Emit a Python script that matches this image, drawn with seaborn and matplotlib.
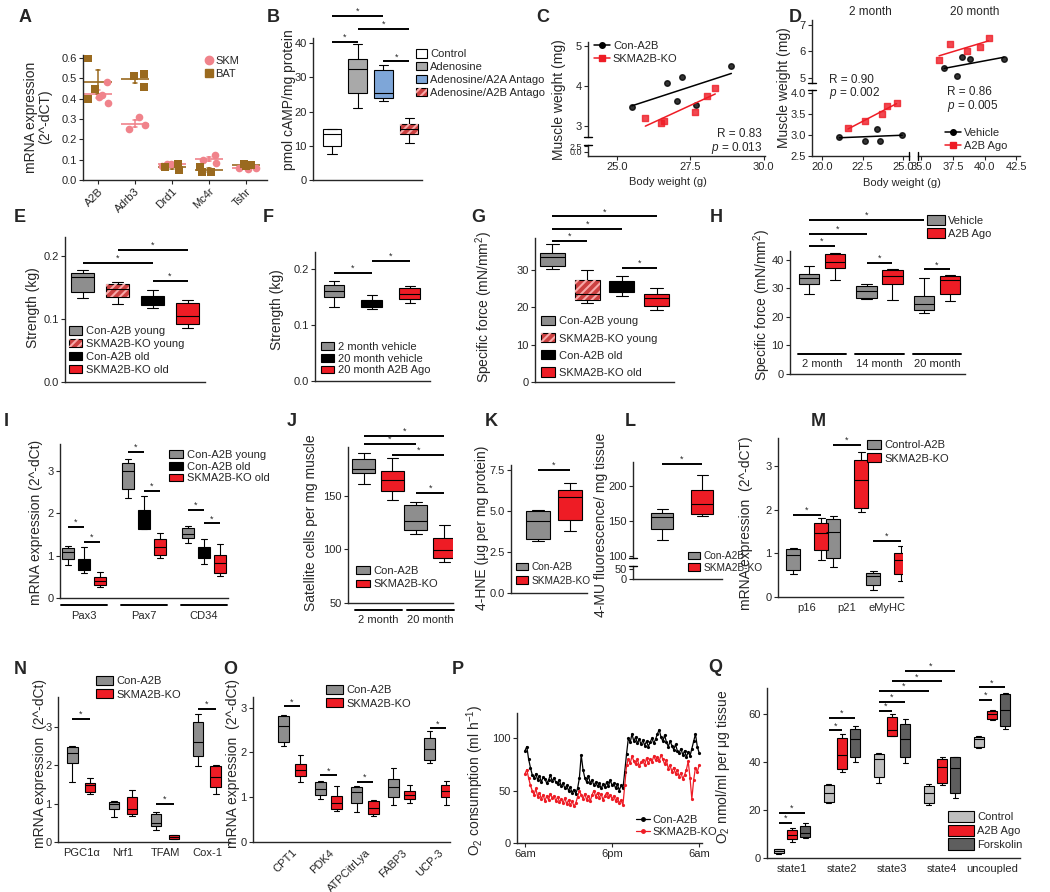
import numpy as np
import pandas as pd
import matplotlib
matplotlib.use('Agg')
import matplotlib.pyplot as plt
import seaborn as sns
from matplotlib.patches import Patch, PathPatch
from matplotlib.lines import Line2D
from matplotlib.colors import to_rgb

sns.set_style('ticks')
plt.rcParams['font.family'] = ['Liberation Sans', 'DejaVu Sans']
plt.rcParams['mathtext.fontset'] = 'custom'
plt.rcParams['mathtext.rm'] = 'Liberation Sans'
plt.rcParams['mathtext.it'] = 'Liberation Sans:italic'
plt.rcParams['hatch.linewidth'] = 1.5
plt.rcParams['axes.linewidth'] = 1.0

# colours
GRAY = '#8E8E8E'
RED = '#EE1C25'
HATCH_BASE = '#CC4040'
HATCH_LINE = '#F7A8A8'
B_GRAY = '#A9A9A9'
B_BLUE = '#7EA6D8'
Q_LIGHT = '#BEBEBE'
Q_DARK = '#5E5E5E'
SKM_C = '#F0838B'
BAT_C = '#9A6A1F'

# ---------------- data ----------------
# A
a_genes = ['A2B', 'Adrb3', 'Drd1', 'Mc4r', 'Tshr']
a_skm = [[0.48, 0.41, 0.38, 0.42], [0.31, 0.25, 0.27], [0.07, 0.08, 0.08],
         [0.125, 0.10, 0.085], [0.06, 0.06, 0.055]]
a_bat = [[0.60, 0.45, 0.40], [0.52, 0.51, 0.46], [0.08, 0.05, 0.065],
         [0.065, 0.04, 0.04], [0.075, 0.08, 0.07]]

# B  (min, q1, median, q3, max)
b_groups = ['Control', 'Adenosine', 'Adenosine/A2A Antago', 'Adenosine/A2B Antago']
b_stats = [[7.5, 10.0, 13.5, 14.8, 14.8], [21.0, 25.5, 32.5, 35.3, 39.7],
           [23.0, 24.0, 25.3, 32.2, 33.5], [10.8, 13.5, 15.0, 16.5, 18.2]]
b_sig = [(0, 1, 40.3), (1, 3, 44.1), (0, 2, 47.9), (2, 3, 34.7)]

# C
c_con_bw = [25.5, 26.7, 27.2, 27.05, 27.7, 28.9]
c_con_mw = [3.48, 4.07, 4.22, 3.63, 3.52, 4.50]
c_ko_bw = [25.96, 26.5, 26.6, 27.65, 28.07, 28.35]
c_ko_mw = [3.20, 3.07, 3.13, 3.34, 3.76, 3.96]

# D
d2_veh_bw = [21.07, 22.65, 23.4, 23.6, 24.95]
d2_veh_mw = [2.96, 2.86, 3.15, 2.86, 3.00]
d2_ago_bw = [21.6, 22.65, 23.7, 24.0, 24.6]
d2_ago_mw = [3.16, 3.34, 3.49, 3.69, 3.75]
d20_veh_bw = [36.8, 37.8, 38.2, 38.8, 41.5]
d20_veh_mw = [5.36, 5.07, 5.77, 5.70, 5.70]
d20_ago_bw = [36.4, 37.3, 38.6, 39.6, 40.3]
d20_ago_mw = [5.67, 6.27, 6.01, 6.17, 6.49]

# E
e_groups = ['Con-A2B young', 'SKMA2B-KO young', 'Con-A2B old', 'SKMA2B-KO old']
e_stats = [[0.133, 0.143, 0.166, 0.173, 0.178], [0.123, 0.135, 0.148, 0.156, 0.158],
           [0.118, 0.122, 0.128, 0.136, 0.146], [0.085, 0.092, 0.104, 0.126, 0.130]]
e_sig = [(0, 2, 0.189), (1, 3, 0.2095), (2, 3, 0.160)]

# F
f_groups = ['2 month vehicle', '20 month vehicle', '20 month A2B Ago']
f_stats = [[0.132, 0.150, 0.161, 0.171, 0.178], [0.129, 0.132, 0.1375, 0.145, 0.154],
           [0.139, 0.146, 0.156, 0.166, 0.170]]
f_sig = [(0, 1, 0.193), (1, 2, 0.214)]

# G
g_groups = ['Con-A2B young', 'SKMA2B-KO young', 'Con-A2B old', 'SKMA2B-KO old']
g_stats = [[30.3, 30.9, 33.4, 34.6, 36.9], [21.1, 21.8, 23.6, 27.3, 30.0],
           [23.1, 24.0, 25.6, 27.1, 28.4], [19.3, 20.3, 22.4, 23.4, 25.2]]
g_sig = [(0, 3, 44.3), (0, 2, 40.9), (0, 1, 37.7), (2, 3, 30.5)]

# H
h_ages = ['2 month', '14 month', '20 month']
h_treat = ['Vehicle', 'A2B Ago']
h_vehicle = [[28.1, 31.4, 33.7, 34.9, 37.7], [26.2, 26.7, 29.1, 30.8, 31.6],
             [21.5, 22.3, 24.3, 27.2, 33.4]]
h_ago = [[32.8, 36.9, 39.2, 42.0, 42.4], [25.8, 31.6, 34.2, 36.3, 36.6],
         [25.5, 27.9, 32.8, 34.2, 34.5]]
h_sig = [((0, 0), (0, 1), 44.8), ((0, 0), (1, 0), 49.1), ((0, 0), (2, 0), 53.8),
         ((1, 0), (1, 1), 38.9), ((2, 0), (2, 1), 36.6)]

# I
i_genes = ['Pax3', 'Pax7', 'CD34']
i_groups = ['Con-A2B young', 'Con-A2B old', 'SKMA2B-KO old']
i_young = [[0.78, 0.91, 1.09, 1.17, 1.23], [2.35, 2.57, 3.00, 3.18, 3.28], [1.29, 1.41, 1.51, 1.65, 1.70]]
i_old = [[0.60, 0.66, 0.82, 0.92, 1.21], [1.62, 1.63, 1.91, 2.08, 2.41], [0.80, 0.94, 1.08, 1.21, 1.39]]
i_ko = [[0.27, 0.31, 0.39, 0.49, 0.62], [0.94, 1.02, 1.21, 1.39, 1.53], [0.52, 0.60, 0.82, 1.02, 1.28]]
i_sig = [((0, 0), (0, 1), 1.67), ((0, 1), (0, 2), 1.33), ((1, 0), (1, 1), 3.45),
         ((1, 1), (1, 2), 2.53), ((2, 0), (2, 1), 2.08), ((2, 1), (2, 2), 1.76)]

# J
j_ages = ['2 month', '20 month']
j_groups = ['Con-A2B', 'SKMA2B-KO']
j_con = [[161, 171, 175, 184, 190], [114, 118, 126, 141, 144]]
j_ko = [[146, 154, 164.6, 173, 185], [88.5, 92, 99, 111, 123]]
j_sig = [((0, 0), (1, 1), 205.6), ((0, 0), (1, 0), 198.2), ((0, 1), (1, 1), 187.9),
         ((1, 0), (1, 1), 152.5)]

# K
k_groups = ['Con-A2B', 'SKMA2B-KO']
k_stats = [[3.16, 3.29, 4.41, 5.00, 5.06], [3.80, 4.45, 5.85, 6.30, 6.70]]
k_sig = [(0, 1, 7.5)]

# L
l_groups = ['Con-A2B', 'SKMA2B-KO']
l_stats = [[123, 138, 155, 162, 167], [157, 159.4, 174, 194, 216]]
l_sig = [(0, 1, 231.6)]

# M
m_genes = ['p16', 'p21', 'eMyHC']
m_groups = ['Control-A2B', 'SKMA2B-KO']
m_con = [[0.52, 0.62, 0.96, 1.10, 1.12], [0.69, 0.90, 1.50, 1.78, 1.86], [0.15, 0.27, 0.48, 0.54, 0.60]]
m_ko = [[0.86, 1.09, 1.48, 1.69, 1.81], [1.96, 2.05, 2.69, 3.15, 3.34], [0.37, 0.52, 0.85, 1.00, 1.17]]
m_sig = [((0, 0), (0, 1), 1.88), ((1, 0), (1, 1), 3.50), ((2, 0), (2, 1), 1.29)]

# N
n_genes = ['PGC1α', 'Nrf1', 'TFAM', 'Cox-1']
n_groups = ['Con-A2B', 'SKMA2B-KO']
n_con = [[1.57, 2.07, 2.33, 2.47, 2.49], [0.66, 0.86, 0.98, 1.05, 1.08],
         [0.30, 0.41, 0.49, 0.72, 0.77], [1.97, 2.23, 2.60, 3.14, 3.34]]
n_ko = [[1.25, 1.31, 1.48, 1.54, 1.67], [0.69, 0.72, 0.85, 1.18, 1.35],
        [0.08, 0.09, 0.13, 0.17, 0.19], [1.25, 1.44, 1.70, 1.97, 2.00]]
n_sig = [((0, 0), (0, 1), 3.21), ((2, 0), (2, 1), 1.00), ((3, 0), (3, 1), 3.48)]

# O
o_genes = ['CPT1', 'PDK4', 'ATPCitrLya', 'FABP3', 'UCP-3']
o_groups = ['Con-A2B', 'SKMA2B-KO']
o_con = [[2.15, 2.24, 2.60, 2.81, 2.83], [0.97, 1.04, 1.19, 1.35, 1.36], [0.66, 0.87, 1.12, 1.24, 1.25],
         [0.83, 1.00, 1.22, 1.40, 1.65], [1.77, 1.83, 2.07, 2.33, 2.47]]
o_ko = [[1.35, 1.47, 1.62, 1.75, 1.95], [0.70, 0.74, 0.87, 1.03, 1.25], [0.57, 0.63, 0.75, 0.92, 0.94],
        [0.88, 0.95, 1.05, 1.15, 1.27], [0.82, 1.00, 1.13, 1.27, 1.37]]
o_sig = [((0, 0), (0, 1), 3.03), ((1, 0), (1, 1), 1.49), ((2, 0), (2, 1), 1.34), ((4, 0), (4, 1), 2.54)]

# P  (one reading every 15 min from 6am to 6am)
p_hours = np.arange(0, 24.01, 0.25)
p_con = [88, 92, 80, 72, 65,
         62, 66, 60, 64, 58, 63, 61, 57, 60, 65, 59, 62, 58, 56, 60, 54,
         57, 52, 55, 50, 53, 48, 51, 47, 52, 62, 84, 70, 62, 58, 64, 57,
         60, 55, 58, 54, 57, 52, 56, 53, 58, 54, 60, 55, 57, 52, 56, 50,
         55, 52, 68, 85, 100, 96, 104, 97, 101, 95, 99, 94, 98, 93, 97, 92,
         96, 100, 95, 99, 104, 108, 101, 97, 103, 96, 92, 97, 93, 89, 94, 88,
         86, 90, 84, 88, 82, 87, 83, 90, 97, 104, 92, 86]
p_ko = [66, 70, 62, 55, 50,
        46, 52, 44, 48, 42, 46, 40, 45, 41, 47, 43, 45, 40, 44, 39, 42,
        38, 43, 37, 41, 36, 40, 35, 38, 44, 50, 46, 42, 47, 41, 45, 40,
        46, 50, 44, 48, 43, 47, 41, 45, 48, 44, 46, 42, 45, 40, 43, 38,
        41, 36, 55, 74, 80, 76, 83, 78, 75, 80, 73, 77, 79, 74, 81, 76,
        80, 77, 83, 79, 82, 78, 84, 80, 75, 79, 71, 74, 68, 72, 66, 70,
        63, 67, 61, 65, 70, 78, 62, 42, 60, 72, 68, 74]

# Q
q_states = ['state1', 'state2', 'state3', 'state4', 'uncoupled']
q_groups = ['Control', 'A2B Ago', 'Forskolin']
q_control = [[1.6, 2.0, 2.8, 3.6, 3.9], [23, 23.5, 27, 30.5, 31], [31.5, 34, 41.5, 43.5, 44],
             [22, 23, 27, 30, 31], [46, 46.5, 49.5, 50.5, 51]]
q_ago = [[6.7, 7.8, 9.5, 11.8, 12.5], [35.8, 37, 43, 50, 51.8], [51, 51, 53.5, 59, 60],
         [30.5, 31.5, 38, 41.5, 42], [57.5, 58, 60, 61.5, 62]]
q_forsk = [[8.5, 8.8, 10.5, 13.5, 14.5], [40, 42, 49.5, 54, 55], [39.5, 42, 49.5, 56, 58],
           [25, 27, 37.5, 42, 42], [54, 55, 62, 68.5, 69]]
q_sig = [((0, 0), (0, 1), 14.7), ((0, 0), (0, 2), 18.9), ((1, 0), (1, 1), 53.3), ((1, 0), (1, 2), 58.6),
         ((2, 0), (2, 1), 61.4), ((2, 0), (2, 2), 65.2), ((2, 0), (3, 0), 69.9), ((2, 1), (3, 1), 73.8),
         ((2, 2), (3, 2), 78.3), ((4, 0), (4, 1), 66.0), ((4, 0), (4, 2), 71.3)]

# ---------------- helpers ----------------
W, H = 1050, 892
fig = plt.figure(figsize=(W / 100, H / 100), dpi=100)


def axes_px(l, t, r, b):
    ax = fig.add_axes([l / W, 1 - b / H, (r - l) / W, (b - t) / H])
    ax.patch.set_alpha(0)
    return ax


def ftext(x, y, s, **kw):
    kw.setdefault('fontsize', 8)
    return fig.text(x / W, 1 - y / H, s, **kw)


def fline(x1, y1, x2, y2):
    fig.add_artist(Line2D([x1 / W, x2 / W], [1 - y1 / H, 1 - y2 / H], color='black', lw=1.0))


def style(ax, left=True, bottom=True):
    sns.despine(ax=ax, left=not left, bottom=not bottom)
    ax.tick_params(length=3, width=0.8, labelsize=8, pad=1.5)
    ax.set_xlabel('')
    ax.set_ylabel('')
    if not left:
        ax.set_yticks([])
    if not bottom:
        ax.set_xticks([])


def draw_boxes(ax, cats, stats, colors, hues=None, width=0.7, gap=0.0):
    rows = []
    if hues is None:
        for c, s in zip(cats, stats):
            rows += [(c, c, v) for v in s]
        order_h = cats
    else:
        for h, per in zip(hues, stats):
            for c, s in zip(cats, per):
                rows += [(c, h, v) for v in s]
        order_h = hues
    df = pd.DataFrame(rows, columns=['cat', 'grp', 'val'])
    sns.boxplot(data=df, x='cat', y='val', hue='grp', order=cats, hue_order=order_h,
                palette=dict(zip(order_h, colors)), width=width, gap=gap, whis=(0, 100),
                saturation=1, linecolor='black', linewidth=0.8, legend=False, ax=ax)
    for p in list(ax.patches):
        if np.allclose(p.get_facecolor()[:3], to_rgb(HATCH_BASE)):
            ax.add_patch(PathPatch(p.get_path(), transform=p.get_transform(), facecolor='none',
                                   edgecolor=HATCH_LINE, hatch='////', lw=0,
                                   zorder=p.get_zorder() + 0.01))


def hpos(ci, hi, n, width):
    return ci - width / 2 + width / n * (hi + 0.5)


def sig(ax, x1, x2, y):
    ax.plot([x1, x2], [y, y], color='black', lw=1.4, clip_on=False, solid_capstyle='butt')
    ax.annotate('*', ((x1 + x2) / 2, y), xytext=(0, 0), textcoords='offset points',
                ha='center', va='bottom', fontsize=6.5, annotation_clip=False)


def patch_legend(ax, labels, colors, x, y, hatched=(), fs=8, spacing=0.25, hl=1.3, hh=0.9):
    handles = []
    for lab, c in zip(labels, colors):
        p = Patch(facecolor=c, edgecolor='black', lw=0.8)
        if lab in hatched:
            handles.append((p, Patch(facecolor='none', edgecolor=HATCH_LINE, hatch='////', lw=0)))
        else:
            handles.append(p)
    leg = ax.legend(handles, labels, frameon=False, handlelength=hl, handleheight=hh, handletextpad=0.3,
                    borderaxespad=0, borderpad=0, labelspacing=spacing, fontsize=fs, loc='upper left',
                    bbox_to_anchor=(x / W, 1 - y / H), bbox_transform=fig.transFigure)
    leg.set_zorder(20)


def ylab(x, y, s, fs=10):
    ftext(x, y, s, rotation=90, ha='center', va='center', fontsize=fs, linespacing=1.0)


# panel letters
for let, (lx, ly) in {'A': (25, 17), 'B': (273, 17), 'C': (543, 17), 'D': (795, 17),
                      'E': (20, 217), 'F': (268, 217), 'G': (478, 217), 'H': (716, 217),
                      'I': (6, 422), 'J': (292, 422), 'K': (491, 422), 'L': (630, 422),
                      'M': (818, 422), 'N': (20, 670), 'O': (230, 670), 'P': (458, 670),
                      'Q': (715, 668)}.items():
    ftext(lx, ly, let, fontsize=13, fontweight='bold', ha='center', va='center')

# ---------------- A ----------------
axA = axes_px(83, 55, 267, 180)
a_df = pd.DataFrame([(g, 'SKM', v) for g, vals in zip(a_genes, a_skm) for v in vals] +
                    [(g, 'BAT', v) for g, vals in zip(a_genes, a_bat) for v in vals],
                    columns=['gene', 'tissue', 'val'])
np.random.seed(4)
sns.stripplot(data=a_df[a_df.tissue == 'SKM'], x='gene', y='val', order=a_genes, color=SKM_C,
              marker='o', size=5.5, jitter=0.28, linewidth=0, ax=axA)
sns.stripplot(data=a_df[a_df.tissue == 'BAT'], x='gene', y='val', order=a_genes, color=BAT_C,
              marker='s', size=5.5, jitter=0.28, linewidth=0, ax=axA)
sns.pointplot(data=a_df, x='gene', y='val', hue='tissue', order=a_genes, hue_order=['SKM', 'BAT'],
              palette={'SKM': SKM_C, 'BAT': BAT_C}, errorbar='se', capsize=0.12, linestyle='none',
              marker='_', markersize=20, markeredgewidth=1.2, err_kws={'linewidth': 1.1},
              dodge=False, legend=False, ax=axA)
style(axA)
axA.set_ylim(0, 0.615)
axA.set_xlim(-0.4, 4.57)
axA.set_yticks(np.arange(0, 0.61, 0.1))
axA.set_yticklabels(['%.1f' % v for v in np.arange(0, 0.61, 0.1)])
axA.set_xticks(range(5))
axA.set_xticklabels(a_genes, rotation=45, ha='right', rotation_mode='anchor')
axA.legend([Line2D([], [], marker='o', color=SKM_C, ls='none', markersize=6),
            Line2D([], [], marker='s', color=BAT_C, ls='none', markersize=6)], ['SKM', 'BAT'],
           frameon=False, fontsize=8, handletextpad=0.1, borderaxespad=0, borderpad=0,
           labelspacing=0.3, handlelength=1.0, loc='upper left',
           bbox_to_anchor=(203 / W, 1 - 56 / H), bbox_transform=fig.transFigure)
ylab(38, 117, 'mRNA expression\n(2^-dCT)')

# ---------------- B ----------------
axB = axes_px(313, 38, 422, 180)
draw_boxes(axB, b_groups, b_stats, ['white', B_GRAY, B_BLUE, HATCH_BASE], width=0.72)
style(axB, bottom=True)
axB.set_xticks([])
axB.set_ylim(0, 41.5)
axB.set_xlim(-0.74, 3.5)
axB.set_yticks([0, 10, 20, 30, 40])
for x1, x2, y in b_sig:
    sig(axB, x1, x2, y)
patch_legend(axB, b_groups, ['white', B_GRAY, B_BLUE, HATCH_BASE], 416, 49,
             hatched=('Adenosine/A2B Antago',), hl=1.0, hh=0.8)
ylab(289, 100, 'pmol cAMP/mg protein')

# ---------------- C ----------------
axC = axes_px(588, 42, 765, 137)
axC2 = axes_px(588, 145, 765, 156)
sns.regplot(x=c_con_bw, y=c_con_mw, ci=None, color='black', marker='o',
            scatter_kws={'s': 16}, line_kws={'lw': 1.1}, ax=axC)
sns.regplot(x=c_ko_bw, y=c_ko_mw, ci=None, color=RED, marker='s',
            scatter_kws={'s': 16}, line_kws={'lw': 1.1}, ax=axC)
style(axC, bottom=False)
style(axC2)
axC.set_ylim(2.725, 5.1)
axC.set_xlim(24, 30.05)
axC.set_yticks([3, 4, 5])
axC2.set_ylim(-1.67, 2.92)
axC2.set_xlim(24, 30.05)
axC2.set_yticks([0, 2.5])
axC2.set_yticklabels(['0.0', '2.5'])
axC2.tick_params(axis='y', labelsize=6.5)
axC2.set_xticks([25, 27.5, 30])
axC2.set_xticklabels(['25.0', '27.5', '30.0'])
fline(584, 137, 592, 137)
fline(584, 145, 592, 145)
axC.legend([Line2D([], [], color='black', marker='o', markersize=4, lw=1.1),
            Line2D([], [], color=RED, marker='s', markersize=4, lw=1.1)], ['Con-A2B', 'SKMA2B-KO'],
           frameon=False, fontsize=8, handlelength=1.4, handletextpad=0.3, borderaxespad=0,
           borderpad=0, labelspacing=0.3, loc='upper left',
           bbox_to_anchor=(594 / W, 1 - 41 / H), bbox_transform=fig.transFigure)
ftext(762, 134, 'R = 0.83', ha='right', va='center', fontsize=8.5)
ftext(762, 148, '$p$ = 0.013', ha='right', va='center', fontsize=8.5)
ftext(668, 182, 'Body weight (g)', ha='center', va='center', fontsize=8)
ylab(559, 100, 'Muscle weight (mg)')

# ---------------- D ----------------
axDt = axes_px(812, 20, 909, 83)
axDb = axes_px(812, 90, 909, 156)
axDr = axes_px(918, 20, 1020, 156)
sns.regplot(x=d2_veh_bw, y=d2_veh_mw, ci=None, color='black', marker='o',
            scatter_kws={'s': 16}, line_kws={'lw': 1.1}, ax=axDb)
sns.regplot(x=d2_ago_bw, y=d2_ago_mw, ci=None, color=RED, marker='s',
            scatter_kws={'s': 16}, line_kws={'lw': 1.1}, ax=axDb)
sns.regplot(x=d20_veh_bw, y=d20_veh_mw, ci=None, color='black', marker='o',
            scatter_kws={'s': 16}, line_kws={'lw': 1.1}, ax=axDr)
sns.regplot(x=d20_ago_bw, y=d20_ago_mw, ci=None, color=RED, marker='s',
            scatter_kws={'s': 16}, line_kws={'lw': 1.1}, ax=axDr)
style(axDt, bottom=False)
style(axDb)
style(axDr, left=False)
axDt.set_ylim(4.81, 7.17)
axDt.set_yticks([5, 6, 7])
axDb.set_ylim(2.5, 4.07)
axDb.set_yticks([2.5, 3.0, 3.5, 4.0])
axDb.set_yticklabels(['2.5', '3.0', '3.5', '4.0'])
axDb.set_xlim(19.38, 25.37)
axDb.set_xticks([20, 22.5, 25])
axDb.set_xticklabels(['20.0', '22.5', '25.0'])
axDr.set_ylim(2.08, 7.17)
axDr.set_xlim(34.74, 42.78)
axDr.set_xticks([35, 37.5, 40, 42.5])
axDr.set_xticklabels(['35.0', '37.5', '40.0', '42.5'])
fline(808, 83, 816, 83)
fline(808, 90, 816, 90)
fline(909, 152, 909, 160)
fline(918, 152, 918, 160)
ftext(870, 12, '2 month', ha='center', va='center', fontsize=8.5)
ftext(975, 12, '20 month', ha='center', va='center', fontsize=8.5)
ftext(829, 80, 'R = 0.90', ha='left', va='center', fontsize=8.5)
ftext(829, 93, '$p$ = 0.002', ha='left', va='center', fontsize=8.5)
ftext(947, 92, 'R = 0.86', ha='left', va='center', fontsize=8.5)
ftext(947, 106, '$p$ = 0.005', ha='left', va='center', fontsize=8.5)
axDr.legend([Line2D([], [], color='black', marker='o', markersize=4, lw=1.1),
             Line2D([], [], color=RED, marker='s', markersize=4, lw=1.1)], ['Vehicle', 'A2B Ago'],
            frameon=False, fontsize=8, handlelength=1.4, handletextpad=0.3, borderaxespad=0,
            borderpad=0, labelspacing=0.3, loc='upper left',
            bbox_to_anchor=(945 / W, 1 - 128 / H), bbox_transform=fig.transFigure)
ftext(902, 183, 'Body weight (g)', ha='center', va='center', fontsize=8)
ylab(784, 88, 'Muscle weight (mg)')

# ---------------- E ----------------
axE = axes_px(65, 237, 205, 382)
e_cols = [GRAY, HATCH_BASE, 'black', RED]
draw_boxes(axE, e_groups, e_stats, e_cols, width=0.67)
style(axE)
axE.set_xticks([])
axE.set_ylim(0, 0.23)
axE.set_xlim(-0.5, 3.5)
axE.set_yticks([0, 0.1, 0.2])
axE.set_yticklabels(['0.0', '0.1', '0.2'])
for x1, x2, y in e_sig:
    sig(axE, x1, x2, y)
patch_legend(axE, e_groups, e_cols, 69, 326, hatched=('SKMA2B-KO young',), hl=1.2, hh=0.8)
ylab(33, 308, 'Strength (kg)')

# ---------------- F ----------------
axF = axes_px(315, 252, 430, 381)
f_cols = [GRAY, 'black', RED]
draw_boxes(axF, f_groups, f_stats, f_cols, width=0.55)
style(axF)
axF.set_xticks([])
axF.set_ylim(0, 0.2304)
axF.set_xlim(-0.5, 2.53)
axF.set_yticks([0, 0.1, 0.2])
axF.set_yticklabels(['0.0', '0.1', '0.2'])
for x1, x2, y in f_sig:
    sig(axF, x1, x2, y)
patch_legend(axF, f_groups, f_cols, 321, 342, hl=1.2, hh=0.7, spacing=0.15)
ylab(277, 310, 'Strength (kg)')

# ---------------- G ----------------
axG = axes_px(535, 238, 674, 382)
draw_boxes(axG, g_groups, g_stats, e_cols, width=0.72)
style(axG)
axG.set_xticks([])
axG.set_ylim(0, 38.5)
axG.set_xlim(-0.5, 3.5)
axG.set_yticks([0, 10, 20, 30])
for x1, x2, y in g_sig:
    sig(axG, x1, x2, y)
patch_legend(axG, g_groups, e_cols, 541, 316, hatched=('SKMA2B-KO young',), spacing=0.6, hl=1.3, hh=0.9)
ylab(484, 307, 'Specific force (mN/mm$^2$)')

# ---------------- H ----------------
axH = axes_px(790, 251, 965, 374)
draw_boxes(axH, h_ages, [h_vehicle, h_ago], [GRAY, RED], hues=h_treat, width=0.9, gap=0.2)
style(axH)
axH.set_xticks([])
axH.set_ylim(0, 43)
axH.set_xlim(-0.557, 2.487)
axH.set_yticks([0, 10, 20, 30, 40])
for (c1, h1), (c2, h2), y in h_sig:
    sig(axH, hpos(c1, h1, 2, 0.9), hpos(c2, h2, 2, 0.9), y)
for gi, lab in enumerate(h_ages):
    axH.plot([gi - 0.42, gi + 0.42], [7, 7], color='black', lw=1.4)
    axH.text(gi, 3.5, lab, ha='center', va='center', fontsize=8)
patch_legend(axH, h_treat, [GRAY, RED], 927, 215, hl=1.6, hh=1.0, spacing=0.2)
ylab(762, 305, 'Specific force (mN/mm$^2$)')

# ---------------- I ----------------
axI = axes_px(60, 444, 228, 598)
draw_boxes(axI, i_genes, [i_young, i_old, i_ko], [GRAY, 'black', RED], hues=i_groups, width=0.8, gap=0.2)
style(axI)
axI.set_xticks([])
axI.set_ylim(0, 3.63)
axI.set_xlim(-0.4, 2.4)
axI.set_yticks([0, 1, 2, 3])
for (c1, h1), (c2, h2), y in i_sig:
    sig(axI, hpos(c1, h1, 3, 0.8), hpos(c2, h2, 3, 0.8), y)
for gi, lab in enumerate(i_genes):
    axI.plot([gi - 0.38, gi + 0.38], [-0.17, -0.17], color='black', lw=1.4, clip_on=False)
    axI.text(gi, -0.42, lab, ha='center', va='center', fontsize=8, clip_on=False)
patch_legend(axI, i_groups, [GRAY, 'black', RED], 169, 450, hl=1.3, hh=0.7, spacing=0.15)
ylab(36, 522, 'mRNA expression (2^-dCt)')

# ---------------- J ----------------
axJ = axes_px(348, 447, 453, 603)
draw_boxes(axJ, j_ages, [j_con, j_ko], [GRAY, RED], hues=j_groups, width=1.1, gap=0.2)
style(axJ)
axJ.set_xticks([])
axJ.set_ylim(50, 195.4)
axJ.set_xlim(-0.58, 1.44)
axJ.set_yticks([50, 100, 150])
for (c1, h1), (c2, h2), y in j_sig:
    sig(axJ, hpos(c1, h1, 2, 1.1), hpos(c2, h2, 2, 1.1), y)
for gi, lab in enumerate(j_ages):
    axJ.plot([gi - 0.45, gi + 0.45], [43.5, 43.5], color='black', lw=1.4, clip_on=False)
    axJ.text(gi, 34.2, lab, ha='center', va='center', fontsize=8, clip_on=False)
patch_legend(axJ, j_groups, [GRAY, RED], 356, 566, hl=1.3, hh=0.7, spacing=0.3)
ylab(311, 523, 'Satellite cells per mg muscle')

# ---------------- K ----------------
axK = axes_px(511, 465, 587, 593)
draw_boxes(axK, k_groups, k_stats, [GRAY, RED], width=0.75)
style(axK)
axK.set_xticks([])
axK.set_ylim(0, 7.8)
axK.set_xlim(-0.84, 1.53)
axK.set_yticks([0, 2.5, 5, 7.5])
axK.set_yticklabels(['0.0', '2.5', '5.0', '7.5'])
for x1, x2, y in k_sig:
    sig(axK, x1, x2, y)
patch_legend(axK, k_groups, [GRAY, RED], 516, 562, fs=7.3, hl=1.2, hh=0.7, spacing=0.35)
ylab(482, 528, '4-HNE (μg per mg protein)')

# ---------------- L ----------------
axL = axes_px(633, 462, 722, 558)
axL2 = axes_px(633, 566, 722, 579)
draw_boxes(axL, l_groups, l_stats, [GRAY, RED], width=0.55)
style(axL, bottom=False)
style(axL2)
axL2.set_xticks([])
axL.set_ylim(97.2, 234)
axL.set_xlim(-0.725, 1.5)
axL.set_yticks([100, 150, 200])
axL2.set_ylim(0, 67)
axL2.set_yticks([0, 50])
for x1, x2, y in l_sig:
    sig(axL, x1, x2, y)
fline(629, 558, 637, 558)
fline(629, 566, 637, 566)
patch_legend(axL2, l_groups, [GRAY, RED], 688, 551, fs=7.3, hl=1.2, hh=0.7, spacing=0.15)
ylab(601, 525, '4-MU fluorescence/ mg tissue')

# ---------------- M ----------------
axM = axes_px(778, 438, 903, 597)
draw_boxes(axM, m_genes, [m_con, m_ko], [GRAY, RED], hues=m_groups, width=1.4, gap=0.5)
style(axM)
axM.set_ylim(0, 3.65)
axM.set_xlim(-0.725, 2.4)
axM.set_yticks([0, 1, 2, 3])
axM.set_xticks(range(3))
axM.set_xticklabels(m_genes)
axM.tick_params(axis='x', length=0, pad=4)
for (c1, h1), (c2, h2), y in m_sig:
    sig(axM, hpos(c1, h1, 2, 1.4), hpos(c2, h2, 2, 1.4), y)
patch_legend(axM, m_groups, [GRAY, RED], 867, 440, hl=1.3, hh=0.8, spacing=0.3)
ylab(746, 523, 'mRNA expression  (2^-dCT)')

# ---------------- N ----------------
axN = axes_px(58, 697, 230, 842)
draw_boxes(axN, n_genes, [n_con, n_ko], [GRAY, RED], hues=n_groups, width=0.85, gap=0.4)
style(axN)
axN.set_ylim(0, 3.78)
axN.set_xlim(-0.55, 3.55)
axN.set_yticks([0, 1, 2, 3])
axN.set_xticks(range(4))
axN.set_xticklabels(n_genes)
axN.tick_params(axis='x', length=0, pad=4)
for (c1, h1), (c2, h2), y in n_sig:
    sig(axN, hpos(c1, h1, 2, 0.85), hpos(c2, h2, 2, 0.85), y)
patch_legend(axN, n_groups, [GRAY, RED], 96, 676, hl=1.5, hh=0.8, spacing=0.3)
ylab(40, 763, 'mRNA expression  (2^-dCt)')

# ---------------- O ----------------
axO = axes_px(253, 697, 450, 842)
draw_boxes(axO, o_genes, [o_con, o_ko], [GRAY, RED], hues=o_groups, width=0.9, gap=0.35)
style(axO)
axO.set_ylim(0, 3.24)
axO.set_xlim(-1.07, 4.33)
axO.set_yticks([0, 1, 2, 3])
axO.set_xticks(range(5))
axO.set_xticklabels(o_genes, rotation=45, ha='right', rotation_mode='anchor')
axO.tick_params(axis='x', length=0, pad=4)
for (c1, h1), (c2, h2), y in o_sig:
    sig(axO, hpos(c1, h1, 2, 0.9), hpos(c2, h2, 2, 0.9), y)
patch_legend(axO, o_groups, [GRAY, RED], 326, 685, hl=1.5, hh=0.8, spacing=0.3)
ylab(233, 763, 'mRNA expression  (2^-dCt)')

# ---------------- P ----------------
axP = axes_px(517, 713, 702, 843)
sns.lineplot(x=p_hours, y=p_con, color='black', marker='o', markersize=2.3, markeredgewidth=0,
             lw=0.9, ax=axP)
sns.lineplot(x=p_hours, y=p_ko, color=RED, marker='o', markersize=2.3, markeredgewidth=0,
             lw=0.9, ax=axP)
style(axP)
axP.set_ylim(0, 124)
axP.set_xlim(-1.1, 24.4)
axP.set_yticks([0, 50, 100])
axP.set_xticks([0, 12, 24])
axP.set_xticklabels(['6am', '6pm', '6am'])
axP.legend([Line2D([], [], color='black', marker='o', markersize=2.5, lw=0.9),
            Line2D([], [], color=RED, marker='o', markersize=2.5, lw=0.9)], ['Con-A2B', 'SKMA2B-KO'],
           frameon=False, fontsize=8, handlelength=1.3, handletextpad=0.2, borderaxespad=0,
           borderpad=0, labelspacing=0.15, loc='upper left',
           bbox_to_anchor=(636 / W, 1 - 815 / H), bbox_transform=fig.transFigure)
ylab(475, 780, 'O$_2$ consumption (ml h$^{-1}$)')

# ---------------- Q ----------------
axQ = axes_px(767, 688, 1020, 858)
draw_boxes(axQ, q_states, [q_control, q_ago, q_forsk], [Q_LIGHT, RED, Q_DARK], hues=q_groups,
           width=0.8, gap=0.25)
style(axQ)
axQ.set_ylim(0, 71)
axQ.set_xlim(-0.5, 4.56)
axQ.set_yticks([0, 20, 40, 60])
axQ.set_xticks(range(5))
axQ.set_xticklabels(q_states)
axQ.tick_params(axis='x', length=0, pad=4)
for (c1, h1), (c2, h2), y in q_sig:
    sig(axQ, hpos(c1, h1, 3, 0.8), hpos(c2, h2, 3, 0.8), y)
patch_legend(axQ, q_groups, [Q_LIGHT, RED, Q_DARK], 948, 811, hl=2.3, hh=1.2, spacing=0.2)
ylab(723, 767, 'O$_2$ nmol/ml per μg tissue')

fig.savefig('out.png', dpi=100)
